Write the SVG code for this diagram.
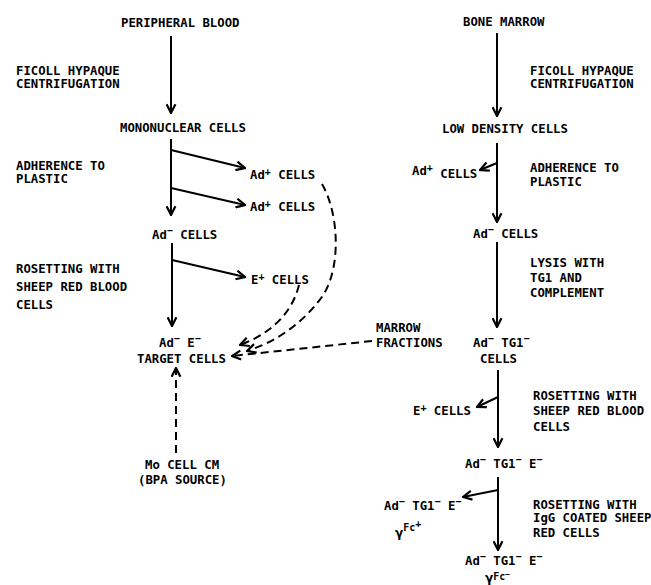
<svg xmlns="http://www.w3.org/2000/svg" width="651" height="585" viewBox="0 0 651 585">
<style>
.t{font-family:"DejaVu Sans Mono","Liberation Mono",monospace;font-size:12.3px;font-weight:bold;fill:#000}
.s{font-size:10px}
.f{font-size:10px}
.x{font-size:8px}
.g{font-family:"DejaVu Sans","Liberation Sans",sans-serif;font-weight:bold;font-size:12px}
.ln{stroke:#000;stroke-width:2;fill:none}
.ds{stroke:#000;stroke-width:2;fill:none;stroke-dasharray:8 5}
</style>
<defs>
<marker id="arr" viewBox="0 0 10 10" refX="9" refY="5" markerWidth="11" markerHeight="11" markerUnits="userSpaceOnUse" orient="auto">
<path d="M1,1 L9,5 L1,9" fill="none" stroke="#000" stroke-width="2"/>
</marker>
</defs>
<rect width="651" height="585" fill="#fff"/>

<g id="connectors">
<line class="ln" x1="171" y1="36" x2="171" y2="113" marker-end="url(#arr)"/>
<line class="ln" x1="171" y1="139" x2="171" y2="215" marker-end="url(#arr)"/>
<line class="ln" x1="171" y1="150" x2="245" y2="168" marker-end="url(#arr)"/>
<line class="ln" x1="171" y1="188" x2="245" y2="205" marker-end="url(#arr)"/>
<line class="ln" x1="172" y1="243" x2="172" y2="326" marker-end="url(#arr)"/>
<line class="ln" x1="172" y1="260" x2="245" y2="277" marker-end="url(#arr)"/>
<line class="ds" x1="176" y1="453" x2="176" y2="368" marker-end="url(#arr)"/>
<path class="ds" d="M322,184 C340,215 342,275 318,302 C300,325 275,342 247,351" marker-end="url(#arr)"/>
<path class="ds" d="M299,285 C294,305 280,330 240,345" marker-end="url(#arr)"/>
<line class="ds" x1="372" y1="341" x2="232" y2="356" marker-end="url(#arr)"/>
<line class="ln" x1="497" y1="33" x2="497" y2="116" marker-end="url(#arr)"/>
<line class="ln" x1="497" y1="143" x2="497" y2="222" marker-end="url(#arr)"/>
<line class="ln" x1="497" y1="163" x2="480" y2="170" marker-end="url(#arr)"/>
<line class="ln" x1="497" y1="242" x2="497" y2="327" marker-end="url(#arr)"/>
<line class="ln" x1="498" y1="370" x2="498" y2="447" marker-end="url(#arr)"/>
<line class="ln" x1="498" y1="397" x2="477" y2="407" marker-end="url(#arr)"/>
<line class="ln" x1="498" y1="477" x2="498" y2="550" marker-end="url(#arr)"/>
<line class="ln" x1="498" y1="490" x2="463" y2="497" marker-end="url(#arr)"/>
</g>

<g id="peripheral-blood"><text class="t" x="121" y="27">PERIPHERAL BLOOD</text></g>
<g id="ficoll-left"><text class="t" x="16" y="75">FICOLL HYPAQUE</text><text class="t" x="16" y="88">CENTRIFUGATION</text></g>
<g id="mononuclear"><text class="t" x="120" y="132">MONONUCLEAR CELLS</text></g>
<g id="adherence-left"><text class="t" x="16" y="170">ADHERENCE TO</text><text class="t" x="16" y="183">PLASTIC</text></g>
<g id="adplus-1"><text class="t" x="250" y="179">Ad<tspan class="s" dy="-4">+</tspan><tspan dy="4"> CELLS</tspan></text></g>
<g id="adplus-2"><text class="t" x="250" y="211">Ad<tspan class="s" dy="-4">+</tspan><tspan dy="4"> CELLS</tspan></text></g>
<g id="adminus-left"><text class="t" x="152" y="239">Ad<tspan class="s" dy="-5">−</tspan><tspan dy="5"> CELLS</tspan></text></g>
<g id="rosetting-left"><text class="t" x="16" y="273">ROSETTING WITH</text><text class="t" x="16" y="291">SHEEP RED BLOOD</text><text class="t" x="16" y="309">CELLS</text></g>
<g id="eplus-left"><text class="t" x="251" y="284">E<tspan class="s" dy="-4">+</tspan><tspan dy="4"> CELLS</tspan></text></g>
<g id="target"><text class="t" x="159" y="347">Ad<tspan class="s" dy="-5">−</tspan><tspan dy="5"> E</tspan><tspan class="s" dy="-5">−</tspan></text><text class="t" x="137" y="363">TARGET CELLS</text></g>
<g id="mo-cell"><text class="t" x="145" y="469">Mo CELL CM</text><text class="t" x="138" y="484">(BPA SOURCE)</text></g>
<g id="marrow-fractions"><text class="t" x="376" y="332">MARROW</text><text class="t" x="376" y="347">FRACTIONS</text></g>

<g id="bone-marrow"><text class="t" x="463" y="26">BONE MARROW</text></g>
<g id="ficoll-right"><text class="t" x="530" y="75">FICOLL HYPAQUE</text><text class="t" x="530" y="88">CENTRIFUGATION</text></g>
<g id="low-density"><text class="t" x="442" y="133">LOW DENSITY CELLS</text></g>
<g id="adplus-right"><text class="t" x="412" y="175">Ad<tspan class="s" dy="-4">+</tspan><tspan dy="7"> CELLS</tspan></text></g>
<g id="adherence-right"><text class="t" x="530" y="172">ADHERENCE TO</text><text class="t" x="530" y="186">PLASTIC</text></g>
<g id="adminus-right"><text class="t" x="473" y="238">Ad<tspan class="s" dy="-5">−</tspan><tspan dy="5"> CELLS</tspan></text></g>
<g id="lysis"><text class="t" x="530" y="267">LYSIS WITH</text><text class="t" x="530" y="282">TG1 AND</text><text class="t" x="530" y="297">COMPLEMENT</text></g>
<g id="ad-tg1"><text class="t" x="473" y="347">Ad<tspan class="s" dy="-5">−</tspan><tspan dy="5"> TG1</tspan><tspan class="s" dy="-5">−</tspan></text><text class="t" x="480" y="363">CELLS</text></g>
<g id="eplus-right"><text class="t" x="413" y="415">E<tspan class="s" dy="-4">+</tspan><tspan dy="4"> CELLS</tspan></text></g>
<g id="rosetting-right"><text class="t" x="533" y="400">ROSETTING WITH</text><text class="t" x="533" y="415">SHEEP RED BLOOD</text><text class="t" x="533" y="431">CELLS</text></g>
<g id="ad-tg1-e"><text class="t" x="465" y="468">Ad<tspan class="s" dy="-5">−</tspan><tspan dy="5"> TG1</tspan><tspan class="s" dy="-5">−</tspan><tspan dy="5"> E</tspan><tspan class="s" dy="-5">−</tspan></text></g>
<g id="fc-plus"><text class="t" x="384" y="510">Ad<tspan class="s" dy="-5">−</tspan><tspan dy="5"> TG1</tspan><tspan class="s" dy="-5">−</tspan><tspan dy="5"> E</tspan><tspan class="s" dy="-5">−</tspan></text><text class="t" x="395" y="537"><tspan class="g">γ</tspan><tspan class="f" dy="-6">Fc</tspan><tspan class="s" dy="-4">+</tspan></text></g>
<g id="rosetting-igg"><text class="t" x="533" y="509">ROSETTING WITH</text><text class="t" x="533" y="522">IgG COATED SHEEP</text><text class="t" x="533" y="537">RED CELLS</text></g>
<g id="fc-minus"><text class="t" x="465" y="565">Ad<tspan class="s" dy="-5">−</tspan><tspan dy="5"> TG1</tspan><tspan class="s" dy="-5">−</tspan><tspan dy="5"> E</tspan><tspan class="s" dy="-5">−</tspan></text><text class="t" x="485" y="582"><tspan class="g">γ</tspan><tspan class="f" dy="-2">Fc</tspan><tspan class="x" dy="-3">−</tspan></text></g>
</svg>
